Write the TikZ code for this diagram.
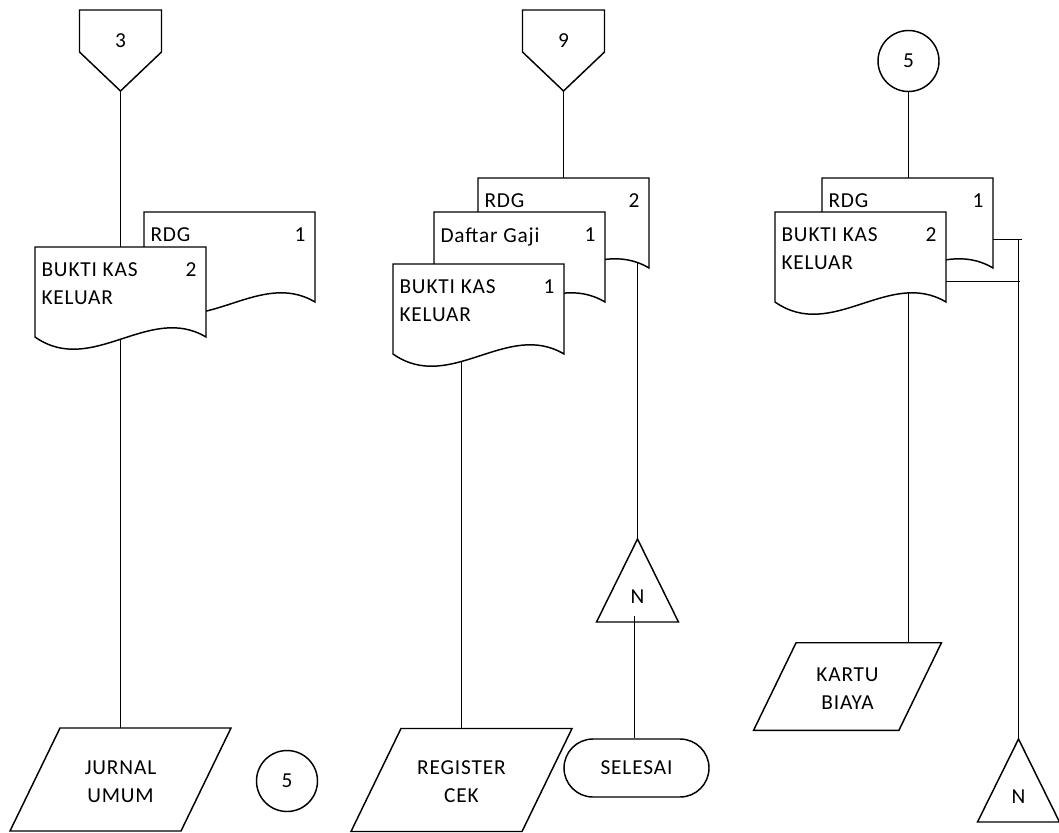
\documentclass[tikz,border=0pt]{standalone}
\usepackage{fontspec}
\setmainfont{Carlito}[LetterSpace=4]
\usetikzlibrary{backgrounds}

\tikzset{every picture/.style={line width=0.75pt}}
\tikzset{
  shp/.style={line width=1.1pt},
  ln/.style={line width=0.8pt},
  lbl/.style={inner sep=0pt, font=\fontsize{16pt}{21pt}\selectfont},
  conn/.style={lbl, draw, shp, fill=white, circle, minimum size=45.75pt},
  term/.style={lbl, draw, shp, fill=white, rounded corners=21.75pt, minimum width=108.75pt, minimum height=43.5pt},
  pics/docu/.style 2 args={code={
    \begin{scope}[yscale=-1]
    \draw[shp, fill=white] (0,0) -- (171,0) -- (171,90) .. controls (114,56) and (57,130) .. (0,90) -- cycle;
    \node[lbl, anchor=north west, align=left] (-t) at (6,15) {#1};
    \node[lbl, anchor=north east] (-no) at (162,15) {#2};
    \coordinate (-n) at (85.5,0);
    \end{scope}
  }},
  pics/io/.style 2 args={code={
    \begin{scope}[yscale=-1]
    \draw[shp, fill=white, scale=#1] (-60.5,-51.5) -- (110.5,-51.5) -- (60.5,51.5) -- (-110.5,51.5) -- cycle;
    \node[lbl, align=center] (-t) at (0,2) {#2};
    \coordinate (-n) at (0,{-51.5*#1});
    \end{scope}
  }},
  pics/offpg/.style={code={
    \begin{scope}[yscale=-1]
    \draw[shp, fill=white] (-41,-31) -- (41,-31) -- (41,11) -- (0,50) -- (-41,11) -- cycle;
    \node[lbl] (-t) at (0,0) {#1};
    \coordinate (-s) at (0,50);
    \end{scope}
  }},
  pics/tri/.style={code={
    \begin{scope}[yscale=-1]
    \draw[shp] (0,0) -- (41,83) -- (-41,83) -- cycle;
    \node[lbl] (-t) at (0,58) {#1};
    \coordinate (-n) at (0,0);
    \coordinate (-in) at (-3,77);
    \end{scope}
  }}
}

\begin{document}
\begin{tikzpicture}[x=0.75pt,y=0.75pt,yscale=-1,xscale=1]
\useasboundingbox (0,0) rectangle (1059,832);

% column 1
\pic (op3) at (120.5,41) {offpg=3};
\pic (rdg1) at (144,212) {docu={RDG}{1}};
\pic (bkk1) at (35,247) {docu={BUKTI KAS\\KELUAR}{2}};
\pic (jur) at (120.5,779.5) {io={1}{JURNAL\\UMUM}};
\node[conn] (c5a) at (287,781) {5};

% column 2
\pic (op9) at (563.5,41) {offpg=9};
\pic (rdg2) at (478,178) {docu={RDG}{2}};
\pic (dg) at (434,212) {docu={Daftar Gaji}{1}};
\pic (bkk2) at (393,264) {docu={BUKTI KAS\\KELUAR}{1}};
\pic (tri1) at (637.5,539) {tri=N};
\node[term] (sel) at (636.5,768) {SELESAI};
\pic (reg) at (461.5,780) {io={1}{REGISTER\\CEK}};

% column 3
\node[conn] (c5b) at (908.5,61) {5};
\pic (rdg3) at (822,178) {docu={RDG}{1}};
\pic (bkk3) at (775,212) {docu={BUKTI KAS\\KELUAR}{2}};
\pic (kartu) at (847.5,686.5) {io={0.85}{KARTU\\BIAYA}};
\pic (tri2) at (1018.5,739) {tri=N};
\coordinate (jr1) at (1022,239.5);
\coordinate (jr2) at (1020,281.5);

% flow lines
\begin{scope}[on background layer]
\draw[ln] (op3-s) -- (op3-s |- jur-n);
\draw[ln] (op9-s) -- (rdg2-n);
\draw[ln] (tri1-n |- rdg2-n) -- (tri1-n);
\draw[ln] (reg-n |- bkk2-n) -- (reg-n);
\draw[ln] (sel.north -| tri1-in) -- (tri1-in);
\draw[ln] (c5b.south) -- (c5b.south |- kartu-n);
\draw[ln] (jr1) -- (jr1 -| rdg3-n);
\draw[ln] (jr2) -- (jr2 -| bkk3-n);
\draw[ln] (jr1 -| tri2-n) -- (tri2-n);
\end{scope}

\end{tikzpicture}
\end{document}
